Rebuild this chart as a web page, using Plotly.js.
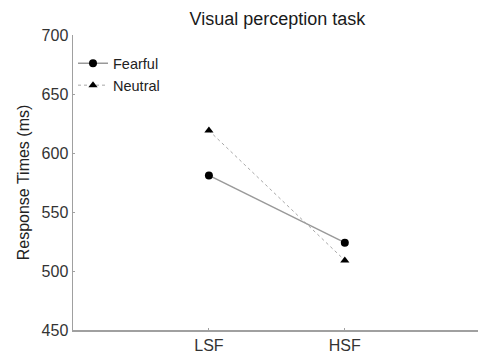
<!DOCTYPE html>
<html>
<head>
<meta charset="utf-8">
<script src="https://cdn.plot.ly/plotly-3.0.1.min.js"></script>
<style>html,body{margin:0;padding:0;background:#fff;}#chart{width:478px;height:360px;}</style>
</head>
<body>
<div id="chart"></div>
<script>
var categories = ["LSF", "HSF"];
var categoryPositions = [1, 2];
var fearful = [581, 524];
var neutral = [619, 509];
var yTicks = [450, 500, 550, 600, 650, 700];

var traces = [
  {
    x: categoryPositions, y: fearful, name: "Fearful", type: "scatter", mode: "lines+markers",
    line: {color: "#999999", width: 1.5, dash: "solid"},
    marker: {symbol: "circle", size: 8, color: "#000"}
  },
  {
    x: categoryPositions, y: neutral, name: "Neutral", type: "scatter", mode: "lines+markers",
    line: {color: "#a8a8a8", width: 1, dash: "dot"},
    marker: {symbol: "triangle-up", size: 8, color: "#000"}
  }
];

var layout = {
  width: 478, height: 360,
  margin: {l: 73, r: 0, t: 35, b: 30, autoexpand: false},
  paper_bgcolor: "#fff", plot_bgcolor: "#fff",
  font: {family: "Liberation Sans, Arial, sans-serif", size: 16, color: "#333"},
  title: {text: "Visual perception task", x: 0.5805, xanchor: "center", y: 0.947, yanchor: "middle", font: {size: 18, color: "#1a1a1a"}},
  showlegend: true,
  legend: {x: 0.0, y: 0.958, xanchor: "left", yanchor: "top", bgcolor: "rgba(0,0,0,0)", font: {size: 14.5, color: "#222"}, tracegroupgap: 0},
  xaxis: {
    range: [0, 2.98], tickvals: categoryPositions, ticktext: categories,
    showgrid: false, zeroline: false, showline: true, linecolor: "#a0a0a0", linewidth: 1.5,
    ticks: "inside", ticklen: 2, tickcolor: "#a0a0a0", tickfont: {size: 16, color: "#333"}
  },
  yaxis: {
    range: [450, 700], tickvals: yTicks,
    showgrid: false, zeroline: false, showline: true, linecolor: "#a0a0a0", linewidth: 1.5,
    ticks: "inside", ticklen: 2, tickcolor: "#a0a0a0", tickfont: {size: 16, color: "#333"},
    title: {text: "Response Times (ms)", standoff: 8, font: {size: 16, color: "#222"}}
  }
};

Plotly.newPlot("chart", traces, layout, {staticPlot: true, displayModeBar: false});
</script>
</body>
</html>
